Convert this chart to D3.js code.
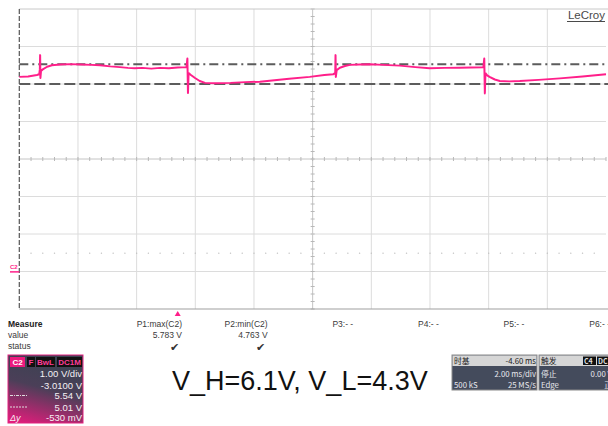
<!DOCTYPE html>
<html>
<head>
<meta charset="utf-8">
<script src="https://cdn.jsdelivr.net/npm/d3@7"></script>
<style>
  body { margin: 0; background: #fff; }
  svg { display: block; font-family: "Liberation Sans", Arial, sans-serif; }
  .cjk { font-family: "Noto Sans CJK SC", "Liberation Sans", sans-serif; }
</style>
</head>
<body>
<div id="scope"></div>
<script>
// captured trace of C2 (time in ms, voltage in V)
const traceTime = [
  -5.40, -5.10, -4.80, -4.72, -4.70, -4.69, -4.68, -4.66, -4.60, -4.45, -4.29, -4.00, -3.67,
  -3.30, -2.95, -2.65, -2.30, -1.97, -1.70, -1.46, -1.20, -0.90, -0.60, -0.30, 0.00, 0.30,
  0.33, 0.35, 0.37, 0.45, 0.59, 0.75, 0.93, 1.27, 1.80, 2.30, 2.80, 3.30, 3.80, 4.50, 5.00,
  5.30, 5.37, 5.38, 5.39, 5.42, 5.53, 5.70, 5.87, 6.20, 6.55, 7.00, 7.57, 8.10, 8.59, 9.10,
  9.61, 10.00, 10.42, 10.45, 10.47, 10.49, 10.55, 10.63, 10.81, 10.98, 11.30, 11.66, 12.30,
  13.03, 13.80, 14.60
];
const traceVolt = [
  5.20, 5.21, 5.25, 5.27, 5.40, 5.78, 5.17, 5.36, 5.40, 5.47, 5.51, 5.53, 5.54,
  5.53, 5.52, 5.51, 5.48, 5.46, 5.44, 5.43, 5.44, 5.42, 5.44, 5.43, 5.45, 5.46,
  5.69, 4.77, 5.30, 5.25, 5.17, 5.09, 5.04, 5.03, 5.04, 5.06, 5.07, 5.11, 5.15, 5.20, 5.25,
  5.27, 5.30, 5.78, 5.20, 5.38, 5.445, 5.49, 5.52, 5.53, 5.535, 5.52, 5.50, 5.46, 5.43, 5.44,
  5.445, 5.45, 5.455, 5.69, 4.76, 5.30, 5.24, 5.20, 5.13, 5.09, 5.08, 5.09, 5.12,
  5.16, 5.21, 5.27
];

// horizontal cursors
const cursorLevels = [5.54, 5.01];
const cursorNames = ["dashdot", "dash"];

// measure table
const measureNames = ["P1:max(C2)", "P2:min(C2)", "P3:- -", "P4:- -", "P5:- -", "P6:- -"];
const measureValues = ["5.783 V", "4.763 V", "", "", "", ""];
const measureStatus = [true, true, false, false, false, false];

// channel descriptor box
const channelTags = ["C2", "F", "BwL", "DC1M"];
const channelRows = ["1.00 V/div", "-3.0100 V", "5.54 V", "5.01 V", "-530 mV"];

// timebase / trigger boxes
const timebaseRows = [["时基", "-4.60 ms"], ["", "2.00 ms/div"], ["500 kS", "25 MS/s"]];
const triggerRows = [["触发", ""], ["停止", "0.00 V"], ["Edge", "正"]];

const settings = {
  width: 608,
  height: 426,
  left: 19.3,
  right: 606,
  top: 9,
  bottom: 309,
  xDivs: 10,
  yDivs: 8,
  timeDomain: [-5.4, 14.6],
  voltDomain: [-0.99, 7.01],
  traceColor: "#ff1f8a"
};

const svg = d3.select("#scope")
  .append("svg")
  .attr("width", settings.width)
  .attr("height", settings.height);

const x = d3.scaleLinear().domain(settings.timeDomain).range([settings.left, settings.right]);
const y = d3.scaleLinear().domain(settings.voltDomain).range([settings.bottom, settings.top]);

const xStep = (settings.right - settings.left) / settings.xDivs;
const yStep = (settings.bottom - settings.top) / settings.yDivs;

// grid
const grid = svg.append("g").attr("class", "grid");
const gridTimes = d3.range(1, settings.xDivs).map(i => settings.timeDomain[0] + i * 2);
const gridVolts = d3.range(1, settings.yDivs).map(i => settings.voltDomain[0] + i);

grid.selectAll("line.v")
  .data(gridTimes)
  .join("line")
  .attr("class", "v")
  .attr("x1", d => x(d)).attr("x2", d => x(d))
  .attr("y1", settings.top).attr("y2", settings.bottom)
  .attr("stroke", (d, i) => i === 4 ? "#c4c4c4" : "#dcdcdc")
  .attr("stroke-width", 1);

grid.selectAll("line.h")
  .data(gridVolts)
  .join("line")
  .attr("class", "h")
  .attr("x1", settings.left).attr("x2", settings.right)
  .attr("y1", d => y(d)).attr("y2", d => y(d))
  .attr("stroke", (d, i) => i === 3 ? "#c4c4c4" : "#dcdcdc")
  .attr("stroke-width", 1);

// minor ticks on the centre cross
const cx = x(gridTimes[4]);
const cy = y(gridVolts[3]);
const vTicks = d3.range(0, settings.yDivs * 5 + 1).map(i => settings.top + i * yStep / 5);
const hTicks = d3.range(0, settings.xDivs * 5 + 1).map(i => settings.left + i * xStep / 5);

grid.selectAll("line.vt")
  .data(vTicks)
  .join("line")
  .attr("class", "vt")
  .attr("x1", cx - 2).attr("x2", cx + 2)
  .attr("y1", d => d).attr("y2", d => d)
  .attr("stroke", "#b8b8b8");

grid.selectAll("line.ht")
  .data(hTicks)
  .join("line")
  .attr("class", "ht")
  .attr("x1", d => d).attr("x2", d => d)
  .attr("y1", cy - 2).attr("y2", cy + 2)
  .attr("stroke", "#b8b8b8");

// faint dotted reference row
grid.selectAll("circle.dot")
  .data(hTicks.slice(1, -1))
  .join("circle")
  .attr("class", "dot")
  .attr("cx", d => d)
  .attr("cy", y(0.5))
  .attr("r", 0.7)
  .attr("fill", "#bdbdbd");

// borders
svg.append("line")
  .attr("x1", settings.left).attr("x2", settings.width)
  .attr("y1", settings.top).attr("y2", settings.top)
  .attr("stroke", "#c8c8c8");
svg.append("line")
  .attr("x1", settings.left).attr("x2", settings.width)
  .attr("y1", settings.bottom).attr("y2", settings.bottom)
  .attr("stroke", "#a0a0a0").attr("stroke-width", 1.2);
svg.append("line")
  .attr("x1", settings.left).attr("x2", settings.left)
  .attr("y1", settings.top).attr("y2", settings.bottom)
  .attr("stroke", "#555").attr("stroke-width", 1.2)
  .attr("stroke-dasharray", "5,2");

// LeCroy logo
svg.append("text")
  .attr("x", 605).attr("y", 19)
  .attr("text-anchor", "end")
  .attr("font-size", 11.5)
  .attr("fill", "#4a4a4a")
  .text("LeCroy");
svg.append("line")
  .attr("x1", 567).attr("x2", 605)
  .attr("y1", 21.5).attr("y2", 21.5)
  .attr("stroke", "#4a4a4a");

// cursors
svg.selectAll("line.cursor")
  .data(cursorLevels)
  .join("line")
  .attr("class", "cursor")
  .attr("x1", settings.left).attr("x2", settings.width)
  .attr("y1", d => y(d)).attr("y2", d => y(d))
  .attr("stroke", "#5c5c5c")
  .attr("stroke-width", 2)
  .attr("stroke-dasharray", (d, i) => cursorNames[i] === "dashdot" ? "9,4,2,4" : "11,4");

// trace
const tracePoints = traceTime.map((t, i) => [t, traceVolt[i]]);
svg.append("path")
  .datum(tracePoints)
  .attr("fill", "none")
  .attr("stroke", settings.traceColor)
  .attr("stroke-width", 2)
  .attr("stroke-linejoin", "round")
  .attr("d", d3.line().x(d => x(d[0])).y(d => y(d[1])));

// ground marker for C2
svg.append("text")
  .attr("x", 10).attr("y", y(0) - 3)
  .attr("font-size", 6)
  .attr("font-weight", "bold")
  .attr("fill", settings.traceColor)
  .text("C2");
svg.append("line")
  .attr("x1", 10).attr("x2", settings.left)
  .attr("y1", y(0)).attr("y2", y(0))
  .attr("stroke", settings.traceColor).attr("stroke-width", 1.5);

// trigger position marker
svg.append("path")
  .attr("d", `M${x(0)},${settings.bottom + 2} l3,5 l-6,0 z`)
  .attr("fill", settings.traceColor);

// measure table
const measure = svg.append("g").attr("font-size", 8.5).attr("fill", "#3a3a3a");
measure.append("text").attr("x", 8).attr("y", 327).attr("font-weight", "bold").attr("fill", "#222").text("Measure");
measure.append("text").attr("x", 8).attr("y", 338).text("value");
measure.append("text").attr("x", 8).attr("y", 349).text("status");

const colRight = i => 182 + i * 85.6;
measure.selectAll("text.name")
  .data(measureNames)
  .join("text")
  .attr("class", "name")
  .attr("x", (d, i) => colRight(i)).attr("y", 327)
  .attr("text-anchor", "end")
  .text(d => d);
measure.selectAll("text.val")
  .data(measureValues)
  .join("text")
  .attr("class", "val")
  .attr("x", (d, i) => colRight(i)).attr("y", 338)
  .attr("text-anchor", "end")
  .text(d => d);
measure.selectAll("text.stat")
  .data(measureStatus.filter(d => d))
  .join("text")
  .attr("class", "stat")
  .attr("x", (d, i) => colRight(i) - 3).attr("y", 351)
  .attr("text-anchor", "end")
  .attr("font-size", 11)
  .attr("fill", "#333")
  .text("✔");

// channel descriptor box
const defs = svg.append("defs");
const grad = defs.append("linearGradient")
  .attr("id", "chGrad")
  .attr("x1", 0.3).attr("y1", 0).attr("x2", 0).attr("y2", 1);
grad.append("stop").attr("offset", "0%").attr("stop-color", "#3c4252");
grad.append("stop").attr("offset", "40%").attr("stop-color", "#4b3f58");
grad.append("stop").attr("offset", "100%").attr("stop-color", "#ec1a7e");

const ch = svg.append("g");
ch.append("rect")
  .attr("x", 8).attr("y", 355).attr("width", 75).attr("height", 68)
  .attr("fill", "url(#chGrad)")
  .attr("stroke", "#e0237f").attr("stroke-width", 1);

const tagX = [10, 27, 36, 57];
const tagW = [15, 8, 19, 25];
channelTags.forEach((tag, i) => {
  ch.append("rect")
    .attr("x", tagX[i]).attr("y", 357).attr("width", tagW[i]).attr("height", 10)
    .attr("fill", i === 0 ? "#ec1a7e" : "#111");
  ch.append("text")
    .attr("x", tagX[i] + tagW[i] / 2).attr("y", 365.2)
    .attr("text-anchor", "middle")
    .attr("font-size", 8)
    .attr("font-weight", "bold")
    .attr("fill", i === 0 ? "#fff" : "#ff3d96")
    .text(tag);
});

const rowY = [377, 388.5, 399, 410.5, 421];
ch.selectAll("text.row")
  .data(channelRows)
  .join("text")
  .attr("class", "row")
  .attr("x", 82).attr("y", (d, i) => rowY[i])
  .attr("text-anchor", "end")
  .attr("font-size", 9.5)
  .attr("fill", "#f4f0f4")
  .text(d => d);
// little cursor style samples and delta label
ch.append("line").attr("x1", 10).attr("x2", 28).attr("y1", 395.5).attr("y2", 395.5)
  .attr("stroke", "#ddd").attr("stroke-dasharray", "3,1,1,1");
ch.append("line").attr("x1", 10).attr("x2", 28).attr("y1", 407).attr("y2", 407)
  .attr("stroke", "#ddd").attr("stroke-dasharray", "2,1");
ch.append("text").attr("x", 10).attr("y", 421)
  .attr("font-size", 9).attr("font-style", "italic").attr("fill", "#f4f0f4").text("Δy");

// headline
svg.append("text")
  .attr("x", 172).attr("y", 390)
  .attr("font-size", 27)
  .attr("fill", "#111")
  .text("V_H=6.1V, V_L=4.3V");

// timebase and trigger boxes
function infoBox(x0, w, rows, extraTags) {
  const g = svg.append("g").attr("class", "cjk").attr("font-size", 7.8);
  g.append("rect").attr("x", x0).attr("y", 355).attr("width", w).attr("height", 35)
    .attr("fill", "#444b5c").attr("stroke", "#8a8a8a");
  g.append("rect").attr("x", x0 + 0.5).attr("y", 355.5).attr("width", w - 1).attr("height", 10.5)
    .attr("fill", "#d6d6d6");
  const baseY = [363.6, 377.3, 387.6];
  rows.forEach((r, i) => {
    g.append("text").attr("x", x0 + 2).attr("y", baseY[i])
      .attr("fill", i === 0 ? "#222" : "#e8e8ee").text(r[0]);
    g.append("text").attr("x", x0 + w - 1).attr("y", baseY[i])
      .attr("text-anchor", "end")
      .attr("fill", i === 0 ? "#222" : "#e8e8ee").text(r[1]);
  });
  (extraTags || []).forEach(t => {
    g.append("rect").attr("x", t.x).attr("y", 356.5).attr("width", t.w).attr("height", 8.5).attr("fill", "#111");
    g.append("text").attr("x", t.x + 1).attr("y", 363.5).attr("font-size", 7)
      .attr("font-weight", "bold").attr("fill", "#ddd").text(t.label);
  });
  return g;
}

infoBox(452, 85, timebaseRows);
infoBox(539, 74, triggerRows, [{ x: 583, w: 13, label: "C4" }, { x: 597, w: 14, label: "DC" }]);
</script>
</body>
</html>
